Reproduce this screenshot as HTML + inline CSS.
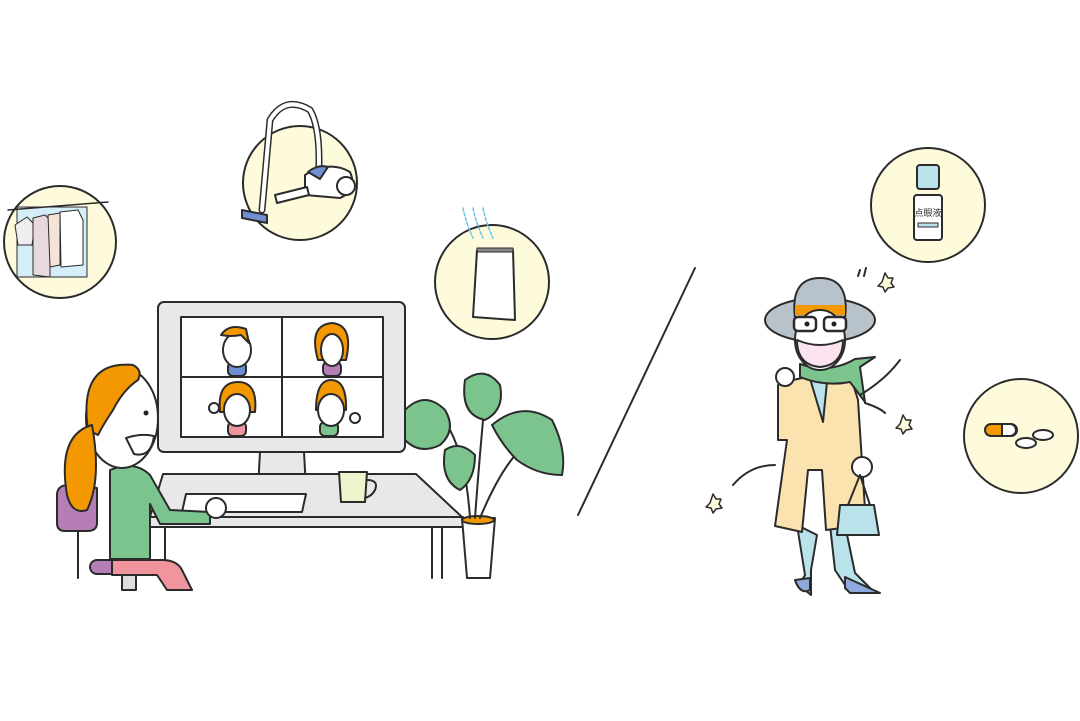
<!DOCTYPE html>
<html><head><meta charset="utf-8"><style>
html,body{margin:0;padding:0;background:#fff;}
svg{display:block}
</style></head><body>
<svg width="1080" height="721" viewBox="0 0 1080 721" xmlns="http://www.w3.org/2000/svg" stroke="#2b2b2b" stroke-width="2" stroke-linejoin="round" stroke-linecap="round">
<rect width="1080" height="721" fill="#fff" stroke="none"/>
<!-- bubbles -->
<g fill="#fefbdc">
<circle cx="60" cy="242" r="56"/>
<circle cx="300" cy="183" r="57"/>
<circle cx="492" cy="282" r="57"/>
<circle cx="928" cy="205" r="57"/>
<circle cx="1021" cy="436" r="57"/>
</g>
<!-- clothes -->
<rect x="17" y="207" width="70" height="70" fill="#d4eef8" stroke-width="1"/>
<line x1="8" y1="210" x2="108" y2="202" stroke-width="1.5"/>
<path d="M15 225 l12 -8 l8 8 l-3 20 l-14 0z" fill="#eee" stroke-width="1"/>
<path d="M33 218 l12 -3 l5 5 l0 57 l-17 -2z" fill="#e8d9dc" stroke-width="1"/>
<path d="M48 215 l12 -2 l0 52 l-10 2z" fill="#f4e4d8" stroke-width="1"/>
<path d="M60 212 l18 -2 l5 10 l0 45 l-22 2z" fill="#fff" stroke-width="1"/>
<!-- vacuum -->
<path d="M262 210 L270 120 Q285 95 310 110 Q322 130 318 185" fill="none" stroke="#2b2b2b" stroke-width="7"/>
<path d="M262 210 L270 120 Q285 95 310 110 Q322 130 318 185" fill="none" stroke="#fff" stroke-width="4"/>
<path d="M242 210 l25 5 l0 8 l-25 -5z" fill="#6f8fd2"/>
<path d="M305 175 Q330 160 350 172 Q358 190 340 198 L305 195z" fill="#fff"/>
<path d="M308 172 q10 -8 20 -5 l-8 12z" fill="#6f8fd2"/>
<path d="M275 195 l32 -8 l2 8 l-32 8z" fill="#fff"/>
<circle cx="346" cy="186" r="9" fill="#fff"/>
<!-- purifier -->
<path d="M463 208 q3 15 10 30 M473 208 q3 15 10 30 M483 208 q3 15 10 30" stroke="#6bc3e8" stroke-dasharray="3 2" stroke-width="1.5" fill="none"/>
<path d="M477 250 l36 0 l2 70 l-42 -3z" fill="#fff"/>
<rect x="477" y="248" width="36" height="4" fill="#888" stroke-width="1"/>
<!-- eye drops -->
<rect x="917" y="165" width="22" height="24" rx="3" fill="#b9e2ea"/>
<rect x="914" y="195" width="28" height="45" rx="3" fill="#fff"/>
<text x="928" y="216" font-size="9" font-family="Liberation Sans, Noto Sans CJK JP, sans-serif" text-anchor="middle" stroke="none" fill="#333">点眼液</text>
<rect x="918" y="223" width="20" height="4" fill="#b9e2ea" stroke-width="1"/>
<!-- pills -->
<path d="M991 424 l20 0 a6 6 0 0 1 0 12 l-20 0 a6 6 0 0 1 0 -12z" fill="#f39800"/>
<path d="M1010 424 a6 6 0 0 1 0 12 l-8 0 l0 -12z" fill="#fff"/>
<ellipse cx="1026" cy="443" rx="10" ry="5" fill="#fff"/>
<ellipse cx="1043" cy="435" rx="10" ry="5" fill="#fff"/>
<!-- slash -->
<line x1="695" y1="268" x2="578" y2="515"/>
<!-- monitor -->
<rect x="158" y="302" width="247" height="150" rx="6" fill="#e8e8e8"/>
<rect x="181" y="317" width="202" height="120" fill="#fff"/>
<line x1="282" y1="317" x2="282" y2="437"/><line x1="181" y1="377" x2="383" y2="377"/>
<!-- faces -->
<g>
<rect x="228" y="362" width="18" height="14" rx="5" fill="#6f8fd2"/>
<ellipse cx="237" cy="350" rx="14" ry="17" fill="#fff"/>
<path d="M221 335 q8 -12 25 -6 l3 14 l-8 -8 q-10 2 -20 0z" fill="#f39800"/>
<rect x="323" y="362" width="18" height="14" rx="5" fill="#b57fb5"/>
<path d="M318 360 q-10 -35 14 -37 q22 2 14 37z" fill="#f39800"/>
<ellipse cx="332" cy="350" rx="11" ry="16" fill="#fff"/>
<rect x="228" y="422" width="18" height="14" rx="5" fill="#f0959e"/>
<path d="M220 412 q-3 -30 18 -30 q20 0 17 30z" fill="#f39800"/>
<ellipse cx="237" cy="410" rx="13" ry="16" fill="#fff"/>
<circle cx="214" cy="408" r="5" fill="#fff"/>
<rect x="320" y="422" width="18" height="14" rx="5" fill="#7bc48e"/>
<path d="M316 410 q0 -30 15 -30 q16 0 15 30z" fill="#f39800"/>
<ellipse cx="331" cy="410" rx="13" ry="16" fill="#fff"/>
<circle cx="355" cy="418" r="5" fill="#fff"/>
</g>
<!-- stand -->
<path d="M260 452 l44 0 l2 36 l15 12 l-78 0 l15 -12z" fill="#e8e8e8"/>
<!-- desk -->
<path d="M163 474 L416 474 L462 517 L150 517z" fill="#e8e8e8"/>
<rect x="150" y="517" width="313" height="10" fill="#e8e8e8"/>
<line x1="432" y1="527" x2="432" y2="578"/><line x1="442" y1="527" x2="442" y2="578"/>
<line x1="165" y1="527" x2="165" y2="560"/>
<path d="M186 494 l120 0 l-4 18 l-120 0z" fill="#fff"/>
<!-- mug -->
<path d="M339 472 l28 0 l-2 30 l-24 0z" fill="#eef4cc"/>
<path d="M367 480 q12 0 8 10 q-3 6 -10 8" fill="none"/>
<!-- plant -->
<path d="M462 518 l33 0 l-5 60 l-23 0z" fill="#fff"/>
<ellipse cx="478" cy="520" rx="16" ry="4" fill="#f39800"/>
<path d="M470 518 Q466 460 450 430 M475 518 Q480 450 485 400 M480 518 Q500 470 520 450" fill="none"/>
<path d="M405 410 q20 -20 40 0 q12 20 -5 35 q-20 10 -35 -5z" fill="#7bc48e"/>
<path d="M465 380 q20 -15 35 5 q5 25 -15 35 q-25 -5 -20 -40z" fill="#7bc48e"/>
<path d="M492 425 q30 -25 60 -5 q15 30 10 55 q-25 0 -45 -15 q-15 -15 -25 -35z" fill="#7bc48e"/>
<path d="M445 450 q15 -10 30 5 q0 25 -15 35 q-20 -10 -15 -40z" fill="#7bc48e"/>
<!-- chair -->
<line x1="78" y1="525" x2="78" y2="578"/>
<path d="M57 495 q0 -12 18 -10 l22 3 l0 35 q0 8 -10 8 l-22 0 q-8 0 -8 -8z" fill="#b57fb5"/>
<rect x="90" y="560" width="80" height="14" rx="7" fill="#b57fb5"/>
<rect x="122" y="574" width="14" height="16" fill="#ddd"/>
<!-- seated woman -->
<path d="M112 560 l50 0 q15 0 20 10 l10 20 l-25 0 l-10 -15 l-45 0z" fill="#f0959e"/>
<path d="M110 470 q25 -10 40 5 l20 35 l40 2 l0 12 l-50 0 l-10 -20 l0 55 l-40 0z" fill="#7bc48e"/>
<circle cx="216" cy="508" r="10" fill="#fff"/>
<ellipse cx="122" cy="418" rx="36" ry="50" fill="#fff"/>
<path d="M88 430 q-10 -70 45 -65 q10 5 5 15 q-15 10 -25 30 q-10 15 -15 25z" fill="#f39800"/>
<path d="M92 425 q-35 10 -25 70 q5 20 20 15 q15 -30 5 -85z" fill="#f39800"/>
<path d="M126 438 q15 -5 28 -2 q-3 22 -20 18z" fill="#fff"/>
<circle cx="146" cy="413" r="2.5" fill="#222" stroke="none"/>
<!-- right woman -->
<path d="M797 525 l8 50 l-6 10 l12 10 l0 -25 l6 -35 z" fill="#b9e2ea"/>
<path d="M830 525 l5 45 l10 15 l30 8 l-20 -20 l-10 -48z" fill="#b9e2ea"/>
<path d="M795 580 q5 15 15 10 l0 -12z" fill="#8ea9dc"/>
<path d="M845 577 l35 16 l-30 0 l-5 -5z" fill="#8ea9dc"/>
<path d="M793 380 L848 368 L858 400 L866 525 L826 530 L822 470 L808 470 L802 532 L775 526 L787 440 L778 440 L778 385 z" fill="#fbe3b0"/>
<path d="M808 372 l20 0 l-5 50z" fill="#b9e2ea"/>
<circle cx="785" cy="377" r="9" fill="#fff"/>
<circle cx="862" cy="467" r="10" fill="#fff"/>
<path d="M840 505 l34 0 l5 30 l-42 0z" fill="#b9e2ea"/>
<path d="M848 505 l12 -30 l10 30" fill="none"/>
<path d="M800 364 q30 10 55 -5 l20 -2 l-15 10 l5 35 l-15 -20 q-25 5 -50 -5z" fill="#7bc48e"/>
<ellipse cx="820" cy="320" rx="55" ry="22" fill="#b8c2cb"/>
<path d="M795 318 q-5 -40 25 -40 q30 0 25 40z" fill="#b8c2cb"/>
<rect x="795" y="305" width="50" height="10" fill="#f39800" stroke="none"/>
<ellipse cx="820" cy="340" rx="25" ry="30" fill="#fff"/>
<path d="M797 340 q23 10 46 0 q0 25 -23 27 q-23 -2 -23 -27z" fill="#fbe4ef"/>
<rect x="794" y="317" width="22" height="14" rx="4" fill="#fff" stroke-width="2.5"/>
<rect x="824" y="317" width="22" height="14" rx="4" fill="#fff" stroke-width="2.5"/>
<circle cx="807" cy="324" r="2.5" fill="#222" stroke="none"/><circle cx="834" cy="324" r="2.5" fill="#222" stroke="none"/>
<!-- motion lines & dust -->
<path d="M900 360 q-15 20 -40 35 M865 403 q15 5 20 10 M775 465 q-25 0 -42 20 M860 270 l-2 6 M866 268 l-2 8" fill="none"/>
<g fill="#fefbdc" stroke-width="1.5">
<path d="M885 273 l3 5 l5 0 l-2 5 l3 4 l-6 1 l-3 4 l-2 -5 l-5 -1 l4 -4z"/>
<path d="M903 415 l3 5 l5 0 l-2 5 l3 4 l-6 1 l-3 4 l-2 -5 l-5 -1 l4 -4z"/>
<path d="M713 494 l3 5 l5 0 l-2 5 l3 4 l-6 1 l-3 4 l-2 -5 l-5 -1 l4 -4z"/>
</g>
</svg>
</body></html>
